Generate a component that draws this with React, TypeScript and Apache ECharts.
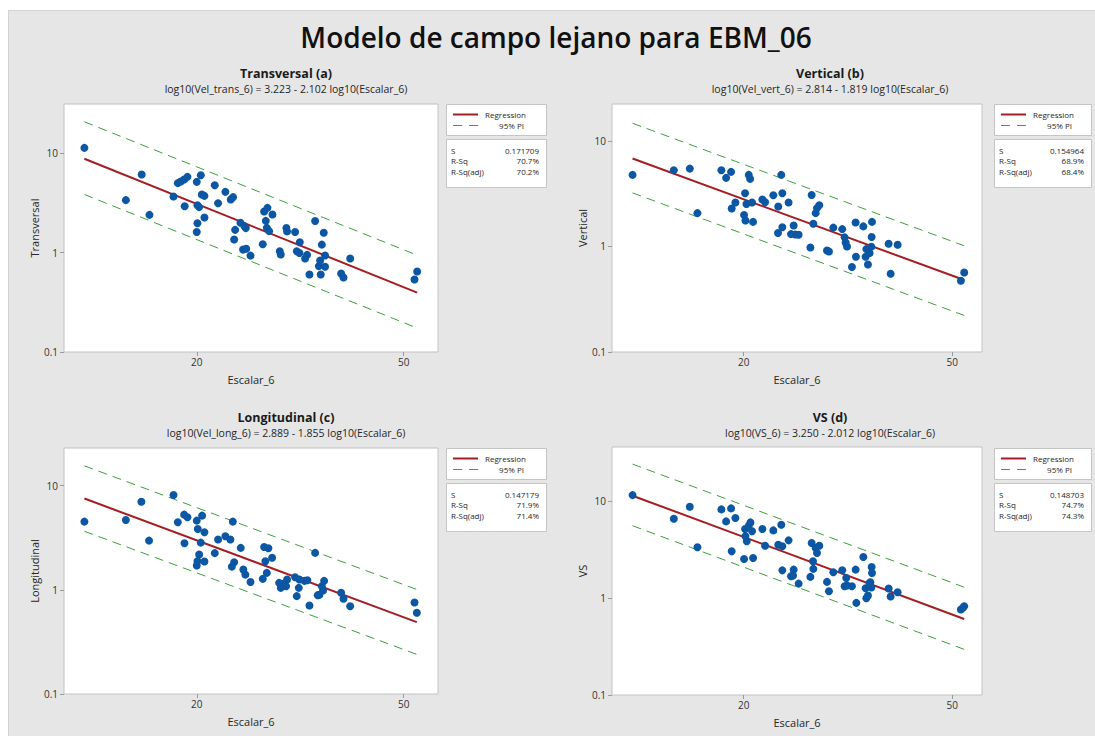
import React, { useEffect, useRef } from 'react';
import * as echarts from 'echarts';

const mainTitle = 'Modelo de campo lejano para EBM_06';
const panelTitles = ['Transversal (a)', 'Vertical (b)', 'Longitudinal (c)', 'VS (d)'];
const equations = [
  'log10(Vel_trans_6) = 3.223 - 2.102 log10(Escalar_6)',
  'log10(Vel_vert_6) = 2.814 - 1.819 log10(Escalar_6)',
  'log10(Vel_long_6) = 2.889 - 1.855 log10(Escalar_6)',
  'log10(VS_6) = 3.250 - 2.012 log10(Escalar_6)',
];
const yNames = ['Transversal', 'Vertical', 'Longitudinal', 'VS'];
const xName = 'Escalar_6';
const intercepts = [3.223, 2.814, 2.889, 3.25];
const slopes = [-2.102, -1.819, -1.855, -2.012];
const sValues = ['0.171709', '0.154964', '0.147179', '0.148703'];
const rSq = ['70.7%', '68.9%', '71.9%', '74.7%'];
const rSqAdj = ['70.2%', '68.4%', '71.4%', '74.3%'];
const xTicks = [20, 50];
const yTicks = [0.1, 1, 10];
const xRanges = [[11.11, 58.2], [11.21, 57.0], [11.11, 58.2], [11.21, 57.0]];
const yMin = 0.1;
const yMaxes = [31.1, 22.4, 23.0, 36.5];
// prediction interval endpoints (at min and max Escalar_6)
const piUpper = [[20.6, 0.94], [14.7, 1.015], [15.5, 1.007], [24.3, 1.3]];
const piLower = [[3.83, 0.174], [3.22, 0.222], [3.65, 0.24], [5.61, 0.296]];

const transX = [12.16,14.61,15.67,16.22,18.04,18.39,18.63,18.91,19.19,18.96,20.0,20.36,20.45,20.69,20.06,20.21,20.69,20.06,20.0,21.66,21.98,22.70,23.25,23.49,24.27,23.70,24.70,24.85,23.60,24.55,24.89,25.37,26.79,26.95,27.35,27.96,27.15,27.27,27.55,28.88,29.01,29.74,29.83,30.91,31.56,31.14,31.51,32.31,32.60,32.94,33.78,35.09,34.79,35.30,34.53,34.33,35.30,34.63,37.90,38.30,39.45,52.45,53.07];
const transY = [11.27,3.36,6.08,2.39,3.65,4.98,5.17,5.42,5.76,2.92,5.13,5.99,3.83,3.71,2.99,2.86,2.25,1.97,1.61,4.75,3.13,4.07,3.41,3.60,1.99,1.69,1.84,1.76,1.35,1.07,1.09,0.93,1.21,2.58,2.81,2.41,2.08,1.77,1.64,1.03,0.955,1.76,1.63,1.61,1.27,1.03,0.99,0.87,0.947,0.60,2.07,1.58,1.20,0.933,0.83,0.73,0.72,0.60,0.615,0.56,0.87,0.535,0.644];

const vertX = [12.27,14.71,15.78,16.32,18.13,18.51,18.92,18.97,19.28,20.03,20.15,20.12,20.24,20.45,20.57,20.75,20.84,21.71,21.97,22.78,23.28,23.59,23.70,23.70,23.25,24.36,24.91,24.62,25.09,25.46,26.81,26.96,27.44,27.60,27.88,27.16,28.84,29.09,29.65,30.84,31.16,31.30,31.49,32.18,32.71,32.75,33.83,34.28,34.18,34.53,34.78,35.04,35.09,35.15,37.81,38.15,39.34,51.95,52.71];
const vertY = [4.77,5.28,5.47,2.07,5.28,4.47,5.09,2.29,2.61,1.99,1.76,3.20,2.53,4.77,4.37,2.61,1.71,2.79,2.63,3.06,2.39,4.77,3.20,1.52,1.34,2.61,1.58,1.31,1.30,1.29,0.978,3.08,2.07,2.31,2.46,1.64,0.917,0.897,1.51,1.46,1.22,1.09,1.00,0.638,1.69,0.798,1.55,0.944,0.798,0.676,0.865,0.993,1.23,1.71,1.06,0.551,1.04,0.473,0.567];

const longX = [12.16,14.61,15.65,16.19,18.04,18.39,18.91,19.19,18.94,20.0,20.09,20.48,20.69,20.36,20.21,20.06,20.0,20.69,21.66,21.98,22.70,23.21,23.46,24.30,23.60,23.36,24.58,24.80,25.37,26.95,27.47,27.92,27.10,27.27,26.79,28.80,29.01,29.31,29.70,29.83,30.91,31.51,31.42,31.14,32.21,32.64,32.94,33.78,34.79,35.15,34.43,34.99,37.90,38.30,39.45,52.45,52.99,34.17];
const longY = [4.52,4.69,7.02,2.97,8.14,4.45,5.27,4.97,2.80,4.62,3.84,5.16,3.57,2.84,2.18,1.88,1.71,1.87,2.25,3.04,3.27,3.04,4.52,2.53,1.84,1.67,1.57,1.40,1.19,2.58,2.51,2.03,1.88,1.455,1.275,1.167,1.045,1.142,1.084,1.256,1.323,1.256,1.045,0.870,1.22,1.238,0.708,2.263,1.084,1.22,0.896,0.985,0.936,0.820,0.697,0.756,0.602,0.889];

const vsX = [12.27,14.71,15.78,16.32,18.13,18.51,18.92,19.28,18.97,20.03,20.12,20.15,20.27,20.45,20.60,20.75,20.84,21.71,21.97,22.78,23.28,23.59,23.70,23.70,24.36,24.91,24.62,24.84,25.46,26.81,26.96,27.44,27.60,27.88,27.12,27.16,28.84,29.09,29.65,30.84,31.39,31.16,31.49,32.18,32.71,32.81,33.83,34.28,34.53,34.18,34.89,35.04,35.15,35.09,34.78,37.81,38.15,39.34,51.95,52.71,52.41];
const vsY = [11.62,6.63,8.81,3.36,8.27,6.22,8.47,6.73,3.05,2.54,5.19,4.36,3.87,5.61,6.07,4.91,2.60,5.19,3.49,5.02,3.57,5.75,3.44,1.94,3.96,1.975,1.686,1.713,1.416,1.660,3.72,3.30,2.93,3.49,2.41,2.01,1.474,1.181,1.854,1.944,1.620,1.330,1.351,1.330,1.975,0.895,2.67,1.0,1.065,1.268,1.462,1.288,1.824,2.10,1.439,1.258,1.040,1.153,0.764,0.827,0.795];

const panelX = [transX, vertX, longX, vsX];
const panelY = [transY, vertY, longY, vsY];

const FONT = "'Open Sans', 'Noto Sans', sans-serif";
const BLUE = '#0b57a4';
const RED = '#a51d22';
const GREEN = '#3c9f3c';

const grids = [
  { left: 64, top: 104, width: 374, height: 248 },
  { left: 612, top: 104, width: 370, height: 248 },
  { left: 64, top: 448, width: 374, height: 246 },
  { left: 612, top: 447, width: 370, height: 248 },
];
const titleCenters = [286, 830, 286, 830];
const titleTops = [73, 73, 417, 417];
const boxLeft = [446, 994, 446, 994];
const boxTop = [104, 104, 448, 448];
const boxWidth = [100, 97, 100, 97];

const lg = Math.log10;

function txt(x: number, y: number, text: string, o: any = {}) {
  const align = o.align || 'left';
  const vAlign = o.vAlign || 'middle';
  return {
    type: 'text',
    x,
    y,
    silent: true,
    z: 10,
    style: {
      text,
      fill: o.fill || '#262626',
      fontSize: o.size || 11,
      fontFamily: FONT,
      fontWeight: o.weight || 'normal',
      align,
      verticalAlign: vAlign,
      textAlign: align,
      textVerticalAlign: vAlign,
    },
  };
}

function buildOption() {
  const xAxis: any[] = [];
  const yAxis: any[] = [];
  const series: any[] = [];
  const graphic: any[] = [
    { type: 'rect', shape: { x: 0, y: 0, width: 1095, height: 10 }, style: { fill: '#ffffff' }, silent: true },
    { type: 'rect', shape: { x: 0, y: 0, width: 8, height: 736 }, style: { fill: '#ffffff' }, silent: true },
    { type: 'line', shape: { x1: 8.5, y1: 10, x2: 8.5, y2: 736 }, style: { stroke: '#d2d2d2', lineWidth: 1 }, silent: true },
    { type: 'line', shape: { x1: 8, y1: 10.5, x2: 1095, y2: 10.5 }, style: { stroke: '#d2d2d2', lineWidth: 1 }, silent: true },
    txt(556, 37, mainTitle, { align: 'center', size: 28, weight: 600, fill: '#111' }),
  ];

  for (let i = 0; i < 4; i++) {
    const xs = panelX[i];
    const ys = panelY[i];
    const xmin = Math.min(...xs);
    const xmax = Math.max(...xs);
    xAxis.push({
      type: 'value',
      gridIndex: i,
      position: 'bottom',
      min: lg(xRanges[i][0]),
      max: lg(xRanges[i][1]),
      splitLine: { show: false },
      axisLine: { show: false, onZero: false },
      axisTick: { show: true, length: 4, lineStyle: { color: '#9a9a9a' }, customValues: xTicks.map(lg) },
      axisLabel: {
        customValues: xTicks.map(lg),
        formatter: (v: number) => String(Math.round(Math.pow(10, v))),
        color: '#333',
        fontSize: 10,
        fontFamily: FONT,
        margin: 5,
      },
      name: xName,
      nameLocation: 'middle',
      nameGap: 22,
      nameTextStyle: { color: '#262626', fontSize: 11, fontFamily: FONT },
    });
    yAxis.push({
      type: 'value',
      gridIndex: i,
      position: 'left',
      min: lg(yMin),
      max: lg(yMaxes[i]),
      splitLine: { show: false },
      axisLine: { show: false, onZero: false },
      axisTick: { show: true, length: 4, lineStyle: { color: '#9a9a9a' }, customValues: yTicks.map(lg) },
      axisLabel: {
        customValues: yTicks.map(lg),
        formatter: (v: number) => String(Number(Math.pow(10, v).toPrecision(4))),
        color: '#333',
        fontSize: 10,
        fontFamily: FONT,
        margin: 6,
      },
      name: yNames[i],
      nameLocation: 'middle',
      nameGap: 24,
      nameTextStyle: { color: '#262626', fontSize: 11, fontFamily: FONT },
    });

    const a = intercepts[i];
    const b = slopes[i];
    series.push({
      type: 'line',
      xAxisIndex: i,
      yAxisIndex: i,
      data: [[lg(xmin), lg(piUpper[i][0])], [lg(xmax), lg(piUpper[i][1])]],
      symbol: 'none',
      lineStyle: { color: GREEN, width: 1, type: [9, 6] },
      silent: true,
      z: 2,
    });
    series.push({
      type: 'line',
      xAxisIndex: i,
      yAxisIndex: i,
      data: [[lg(xmin), lg(piLower[i][0])], [lg(xmax), lg(piLower[i][1])]],
      symbol: 'none',
      lineStyle: { color: GREEN, width: 1, type: [9, 6] },
      silent: true,
      z: 2,
    });
    series.push({
      type: 'line',
      xAxisIndex: i,
      yAxisIndex: i,
      data: [[lg(xmin), a + b * lg(xmin)], [lg(xmax), a + b * lg(xmax)]],
      symbol: 'none',
      lineStyle: { color: RED, width: 2 },
      silent: true,
      z: 3,
    });
    series.push({
      type: 'scatter',
      xAxisIndex: i,
      yAxisIndex: i,
      data: xs.map((x, k) => [lg(x), lg(ys[k])]),
      symbol: 'circle',
      symbolSize: 8,
      itemStyle: { color: BLUE, opacity: 1 },
      silent: true,
      z: 4,
    });

    // titles
    graphic.push(txt(titleCenters[i], titleTops[i], panelTitles[i], { align: 'center', size: 12.5, weight: 'bold', fill: '#1a1a1a' }));
    graphic.push(txt(titleCenters[i], titleTops[i] + 16, equations[i], { align: 'center', size: 10.5, fill: '#262626' }));

    // legend boxes
    const bx = boxLeft[i];
    const by = boxTop[i];
    const bw = boxWidth[i];
    graphic.push({ type: 'rect', shape: { x: bx + 0.5, y: by + 0.5, width: bw, height: 31 }, style: { fill: '#fff', stroke: '#c4c4c4', lineWidth: 1 }, silent: true, z: 5 });
    graphic.push({ type: 'line', shape: { x1: bx + 7, y1: by + 10.5, x2: bx + 32, y2: by + 10.5 }, style: { stroke: RED, lineWidth: 2 }, silent: true, z: 6 });
    graphic.push({ type: 'line', shape: { x1: bx + 7, y1: by + 21.5, x2: bx + 32, y2: by + 21.5 }, style: { stroke: GREEN, lineWidth: 1, lineDash: [9, 7] }, silent: true, z: 6 });
    graphic.push(txt(bx + 80, by + 10, 'Regression', { align: 'right', size: 8 }));
    graphic.push(txt(bx + 78, by + 21, '95% PI', { align: 'right', size: 8 }));
    graphic.push({ type: 'rect', shape: { x: bx + 0.5, y: by + 35.5, width: bw, height: 48 }, style: { fill: '#fff', stroke: '#c4c4c4', lineWidth: 1 }, silent: true, z: 5 });
    const rows = [['S', sValues[i]], ['R-Sq', rSq[i]], ['R-Sq(adj)', rSqAdj[i]]];
    rows.forEach((r, k) => {
      const yy = by + 46 + k * 10.5;
      graphic.push(txt(bx + 5, yy, r[0], { size: 8 }));
      graphic.push(txt(bx + bw - 7, yy, r[1], { align: 'right', size: 8 }));
    });
  }

  return {
    animation: false,
    backgroundColor: '#e6e6e6',
    grid: grids.map((g) => ({ ...g, show: true, backgroundColor: '#ffffff', borderColor: '#c2c2c2', borderWidth: 1, containLabel: false })),
    xAxis,
    yAxis,
    series,
    graphic: { elements: graphic },
  };
}

export default function App() {
  const ref = useRef<HTMLDivElement>(null);
  useEffect(() => {
    document.body.style.margin = '0';
    document.body.style.overflow = 'hidden';
    const chart = echarts.init(ref.current as HTMLDivElement, null, { renderer: 'svg' });
    chart.setOption(buildOption() as any);
    return () => chart.dispose();
  }, []);
  return <div ref={ref} style={{ width: 1095, height: 736 }} />;
}
